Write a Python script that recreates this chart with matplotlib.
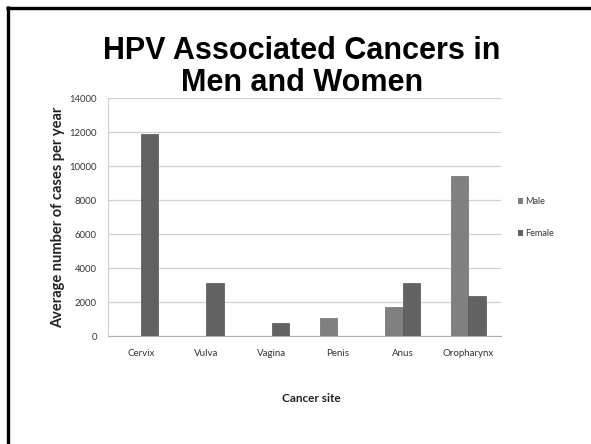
import numpy as np
import matplotlib.pyplot as plt
from matplotlib.lines import Line2D
from matplotlib.patches import Patch

sites = ["Cervix", "Vulva", "Vagina", "Penis", "Anus", "Oropharynx"]
male = [0, 0, 0, 1050, 1700, 9400]
female = [11900, 3100, 780, 0, 3100, 2370]
yticks = [0, 2000, 4000, 6000, 8000, 10000, 12000, 14000]

male_col = "#808080"
female_col = "#626262"

fig = plt.figure(figsize=(5.91, 4.44), dpi=100)
ax = fig.add_axes([108 / 591, 1 - 336 / 444, 393 / 591, 238 / 444])

x = np.arange(len(sites))
w = 0.27
ax.bar(x - w / 2, male, w, color=male_col, edgecolor="#6e6e6e", linewidth=0.5, zorder=3)
ax.bar(x + w / 2, female, w, color=female_col, edgecolor="#555555", linewidth=0.5, zorder=3)

ax.set_xlim(-0.5, len(sites) - 0.5)
ax.set_ylim(0, 14000)
ax.set_yticks(yticks)
ax.set_yticklabels([str(v) for v in yticks], fontsize=6.8, color="#333333", family="Lato")
ax.set_xticks(x)
ax.set_xticklabels(sites, fontsize=7, color="#333333", family="Lato")
ax.tick_params(axis="y", length=0, pad=8)
ax.tick_params(axis="x", length=0, pad=9)
ax.grid(axis="y", color="#d0d0d0", linewidth=0.9, zorder=0)

for s in ["top", "right"]:
    ax.spines[s].set_visible(False)
ax.spines["left"].set_color("#d0d0d0")
ax.spines["bottom"].set_color("#b0b0b0")

ax.set_ylabel("Average number of cases per year", fontsize=10.5, fontweight="bold",
              family="Lato", color="#222222", labelpad=3)
fig.text(311 / 591, 1 - 398 / 444, "Cancer site", fontsize=8.5, family="Lato",
         fontweight="bold", color="#222222", ha="center", va="center")

handles = [Patch(facecolor=male_col, label="Male"), Patch(facecolor=female_col, label="Female")]
leg = fig.legend(handles=handles, loc="upper left", bbox_to_anchor=(510 / 591, 1 - 189 / 444),
                 frameon=False, prop={"family": "Lato", "size": 6.6},
                 handlelength=0.55, handleheight=0.55, handletextpad=0.25, labelspacing=2.5)
for t in leg.get_texts():
    t.set_color("#333333")

fig.text(302 / 591, 1 - 67 / 444, "HPV Associated Cancers in\nMen and Women", fontsize=22,
         fontweight="bold", family="Liberation Sans", ha="center", va="center",
         linespacing=1.05)

# slide frame (top and left edges only)
fig.add_artist(Line2D([6 / 591, 1], [1 - 8 / 444, 1 - 8 / 444], color="black", lw=2.4,
                      transform=fig.transFigure, solid_capstyle="butt"))
fig.add_artist(Line2D([8 / 591, 8 / 591], [0, 1 - 6.5 / 444], color="black", lw=2.4,
                      transform=fig.transFigure, solid_capstyle="butt"))

fig.savefig("out.png", dpi=100)
